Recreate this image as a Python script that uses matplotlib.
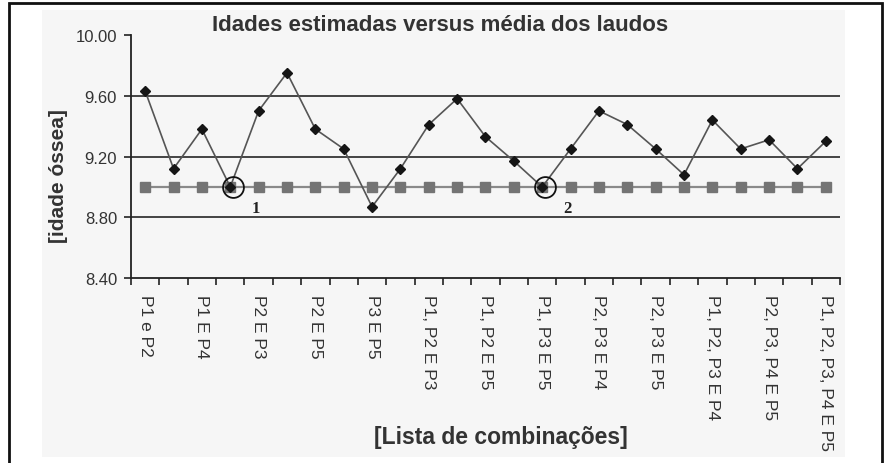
import matplotlib
matplotlib.use("Agg")
import matplotlib.pyplot as plt
from matplotlib.patches import Rectangle
import numpy as np

plt.rcParams['font.family'] = ['Liberation Sans', 'DejaVu Sans']

# combinacoes (so as pares aparecem no eixo)
combinacoes = ["P1 e P2", "P1 E P3", "P1 E P4", "P1 E P5", "P2 E P3",
               "P2 E P4", "P2 E P5", "P3 E P4", "P3 E P5", "P4 E P5",
               "P1, P2 E P3", "P1, P2 E P4", "P1, P2 E P5", "P1, P3 E P4",
               "P1, P3 E P5", "P1, P4 E P5", "P2, P3 E P4", "P2, P4 E P5",
               "P2, P3 E P5", "P3, P4 E P5", "P1, P2, P3 E P4",
               "P1, P2, P3 E P5", "P2, P3, P4 E P5", "P1, P3, P4 E P5",
               "P1, P2, P3, P4 E P5"]
idades_estimadas = [9.63, 9.12, 9.38, 9.00, 9.50, 9.75, 9.38, 9.25, 8.87,
                    9.12, 9.41, 9.58, 9.33, 9.17, 9.00, 9.25, 9.50, 9.41,
                    9.25, 9.08, 9.44, 9.25, 9.31, 9.12, 9.30]
media_laudos = [9.00] * 25
yticks = [8.40, 8.80, 9.20, 9.60, 10.00]

x = np.arange(len(combinacoes))
est = np.array(idades_estimadas)
med = np.array(media_laudos)

fig = plt.figure(figsize=(8.9, 4.64), dpi=100)
fig.patch.set_facecolor('white')
fig.patches.append(Rectangle((0.0472, 0.0136), 0.9022, 0.9627, transform=fig.transFigure,
                             facecolor='#f6f6f6', edgecolor='none', zorder=-2))
fig.patches.append(Rectangle((0.0101, -0.05), 0.9809, 1.0414, transform=fig.transFigure,
                             facecolor='none', edgecolor='#111111', lw=2, zorder=5))

ax = fig.add_axes([0.1472, 0.398, 0.7966, 0.525])
ax.set_facecolor('#f6f6f6')

for v in yticks[1:-1]:
    ax.axhline(v, color='#444444', lw=1.4, zorder=1)

ax.plot(x, med, color='#8a8a8a', lw=1.6, marker='s', ms=6.5,
        mfc='#747474', mec='#747474', zorder=2)
ax.plot(x, est, color='#555555', lw=1.2, marker='D', ms=5,
        mfc='#151515', mec='#151515', zorder=3)

# pontos em que a estimativa coincide com a media
iguais = np.where(np.abs(est - med) < 0.005)[0]
for n, i in enumerate(iguais):
    ax.plot(x[i] + 0.1, est[i], marker='o', ms=15, mfc='none', mec='#111111',
            mew=1.3, zorder=4)
    ax.text(x[i] + 0.9, 8.81, str(n + 1), family='Liberation Serif', fontweight='bold',
            fontsize=12, ha='center', va='bottom', color='#222222')

ax.set_xlim(-0.5, len(x) - 0.5)
ax.set_ylim(8.40, 10.00)
ax.set_yticks(yticks)
ax.set_yticklabels(['%.2f' % v for v in yticks])
ax.set_xticks(x[::2])
ax.set_xticklabels(combinacoes[::2], rotation=270, va='top', ha='center')
ax.set_xticks(np.arange(len(x) + 1) - 0.5, minor=True)
ax.tick_params(axis='x', which='major', length=0, pad=11, labelsize=12.5, labelcolor='#333333')
ax.tick_params(axis='x', which='minor', length=5, width=1.2, color='#222222')
ax.tick_params(axis='y', length=5, width=1.2, color='#222222', pad=5,
               labelsize=12, labelcolor='#333333')

for s in ['top', 'right']:
    ax.spines[s].set_visible(False)
for s in ['left', 'bottom']:
    ax.spines[s].set_color('#222222')
    ax.spines[s].set_linewidth(1.3)

fig.text(0.495, 0.946, 'Idades estimadas versus média dos laudos', ha='center', va='center',
         fontsize=16, fontweight='bold', color='#333333')
fig.text(0.066, 0.621, '[idade óssea]', rotation=90, ha='center', va='center',
         fontsize=15, fontweight='bold', color='#333333')
fig.text(0.563, 0.058, '[Lista de combinações]', ha='center', va='center',
         fontsize=16.5, fontweight='bold', color='#333333')

fig.savefig('out.png', dpi=100)
